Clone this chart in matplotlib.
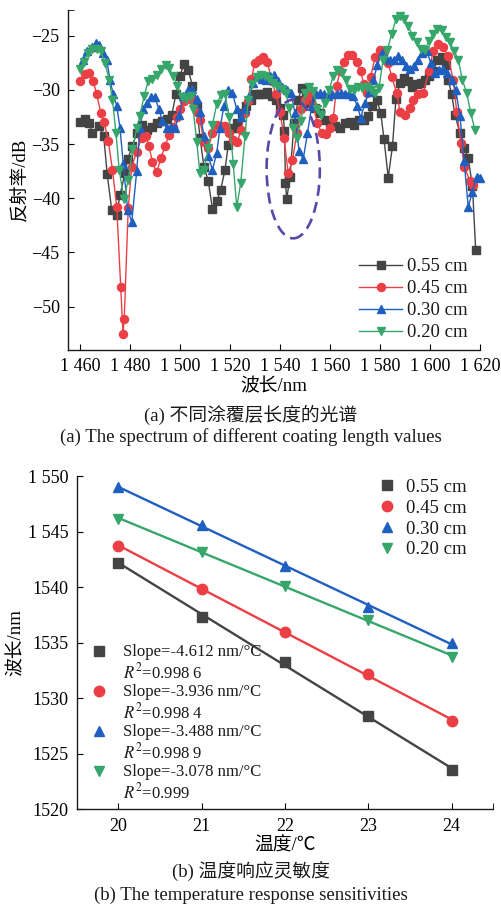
import matplotlib

matplotlib.use("Agg")
import matplotlib.pyplot as plt
import numpy as np
from matplotlib.patches import Ellipse

FONTS = ["Liberation Serif", "Noto Sans CJK SC"]
plt.rcParams.update({
    "font.family": FONTS, "mathtext.fontset": "stix",
    "axes.linewidth": 1.0, "axes.spines.top": False, "axes.spines.right": False,
    "xtick.direction": "in", "ytick.direction": "in",
    "xtick.major.size": 4.5, "ytick.major.size": 4.5,
    "xtick.minor.size": 4.5, "ytick.minor.size": 4.5,
    "text.color": "#1a1a1a", "axes.edgecolor": "#1a1a1a",
})

GRAY, RED, BLUE, GREEN = "#444444", "#ec3f45", "#1f5fbf", "#36a66b"
LABELS = ["0.55 cm", "0.45 cm", "0.30 cm", "0.20 cm"]
COLORS = [GRAY, RED, BLUE, GREEN]
MARKERS = ["s", "o", "^", "v"]

# ---- (a) reflection spectra, (wavelength nm, reflectance dB)
SPEC_055 = np.array([
    (1460, -33.0), (1462, -32.7), (1463.7, -33.1), (1465, -34.0), (1467.7, -33.3),
    (1469.5, -34.3), (1470.9, -37.8), (1472.7, -41.1), (1474.7, -41.5), (1476, -39.7),
    (1478, -37.7), (1479.1, -36.4), (1480.9, -35.2), (1482.7, -34.0), (1484.7, -33.2),
    (1486.7, -33.7), (1488.7, -33.4), (1490.7, -33.1), (1492.7, -32.9), (1494.7, -32.7),
    (1496.7, -32.3), (1498.4, -30.4), (1500, -28.7), (1501.6, -27.6), (1503.3, -28.2),
    (1505, -29.6), (1506.7, -31.5), (1508, -34.4), (1509.6, -37.1), (1511.3, -38.4),
    (1513, -41.0), (1514.7, -40.3), (1516.3, -39.2), (1518, -37.4), (1519.3, -35.1),
    (1521.3, -33.5), (1523, -33.1), (1524.7, -32.1), (1526.4, -31.5), (1528.3, -30.9),
    (1530, -30.4), (1531.7, -30.4), (1533.3, -30.4), (1534.9, -30.2), (1536.7, -30.6),
    (1538.4, -30.9), (1540, -31.7), (1541.3, -32.3), (1541.8, -33.8), (1542.2, -38.6),
    (1542.7, -40.1), (1544, -38.0), (1545.6, -33.1), (1547.3, -30.9), (1548.7, -29.8),
    (1550.4, -30.3), (1552, -31.2), (1554, -31.7), (1556, -32.1), (1558, -32.8),
    (1560, -33.1), (1562, -33.3), (1564, -33.5), (1566, -33.1), (1568, -33.0),
    (1569.7, -33.2), (1571.7, -32.8), (1573.7, -32.8), (1575.3, -32.4), (1577, -31.5),
    (1578.7, -30.9), (1580.3, -32.1), (1581.6, -34.5), (1583.3, -38.1), (1585, -35.2),
    (1586.4, -30.8), (1588, -29.4), (1589.7, -28.9), (1591.3, -29.2), (1593, -29.7),
    (1594.7, -29.5), (1596.3, -29.4), (1598, -29.1), (1599.6, -28.7), (1601.3, -28.3),
    (1603, -27.2), (1604.7, -27.0), (1606.3, -27.7), (1607.3, -29.1), (1608.7, -30.4),
    (1610, -32.3), (1612, -34.0), (1613.7, -35.4), (1615.3, -36.3), (1617, -38.9),
    (1618.3, -44.8),
])
SPEC_045 = np.array([
    (1460, -29.2), (1462, -28.5), (1463.7, -28.4), (1465.3, -29.2), (1466.7, -30.4),
    (1468.3, -32.1), (1469.7, -33.0), (1471.3, -34.7), (1473, -37.4), (1474.7, -40.8),
    (1476.3, -48.2), (1477.2, -52.5), (1477.7, -51.1), (1479.3, -40.9), (1480.7, -37.1),
    (1482.7, -35.7), (1484.7, -34.4), (1486.3, -34.3), (1487.6, -35.2), (1489, -36.7),
    (1490.7, -37.6), (1492.4, -36.3), (1494, -35.2), (1495.6, -34.2), (1497.3, -33.4),
    (1498.7, -32.5), (1500, -31.8), (1501.6, -31.0), (1503.3, -30.5), (1505, -30.9),
    (1506.7, -32.0), (1508, -32.8), (1509.6, -34.8), (1511.3, -35.4), (1513, -34.0),
    (1514.7, -33.2), (1516.3, -33.3), (1518, -33.3), (1519.7, -34.0), (1521.3, -34.6),
    (1523, -34.8), (1524.4, -33.7), (1526, -32.1), (1527.3, -31.0), (1528.5, -29.0),
    (1530, -27.5), (1531.7, -27.2), (1533.3, -27.0), (1535, -27.4), (1536.7, -29.2),
    (1538.4, -30.4), (1540, -32.0), (1541.6, -34.4), (1543.3, -37.7), (1545, -36.5),
    (1546.7, -34.0), (1548.4, -31.8), (1550, -30.9), (1551.7, -30.4), (1553.3, -31.5),
    (1555, -33.1), (1556.7, -34.0), (1558.4, -34.1), (1560, -33.5), (1561.3, -32.6),
    (1562.7, -29.6), (1564, -28.3), (1565.7, -27.4), (1567.3, -26.8), (1569, -26.8),
    (1570.7, -27.4), (1572.3, -28.3), (1573.6, -29.5), (1574.7, -30.3), (1576.3, -28.8),
    (1578, -27.0), (1580, -26.3), (1581.7, -26.5), (1583.3, -27.5), (1584.7, -28.8),
    (1586.7, -30.3), (1588, -32.0), (1590, -32.3), (1592, -31.7), (1593.3, -30.9),
    (1595.3, -30.4), (1597.3, -30.3), (1599.6, -28.3), (1601.3, -26.4), (1603.3, -25.8),
    (1605.3, -26.0), (1607.3, -26.9), (1609.3, -29.1), (1610.7, -32.0), (1612.4, -34.9),
    (1613.7, -37.1), (1616, -38.4), (1617.3, -38.8),
])
SPEC_030 = np.array([
    (1461.3, -27.2), (1463, -26.4), (1464.7, -26.0), (1466.3, -25.7), (1467.7, -25.9),
    (1469.3, -26.6), (1470.7, -27.2), (1472, -29.1), (1473.3, -30.4), (1474.7, -31.5),
    (1476, -33.5), (1477.3, -36.8), (1479.1, -41.1), (1480.7, -42.2), (1482.7, -37.5),
    (1484, -33.5), (1485.3, -31.8), (1486.7, -31.2), (1488.3, -30.7), (1490, -30.7),
    (1491.6, -31.8), (1493, -32.9), (1494.7, -33.5), (1496.3, -33.4), (1498, -33.5),
    (1499.7, -32.3), (1501.3, -30.6), (1503.3, -30.0), (1505, -29.9), (1506.7, -30.8),
    (1508, -32.0), (1509.6, -34.3), (1511.3, -36.1), (1513, -37.4), (1514.7, -35.8),
    (1516, -33.5), (1517.6, -31.5), (1519.3, -30.0), (1521, -30.3), (1522.7, -31.8),
    (1524.3, -32.5), (1526, -31.8), (1527.7, -30.6), (1529.3, -29.4), (1531, -28.8),
    (1532.7, -29.0), (1534.3, -29.1), (1536, -28.7), (1537.6, -28.6), (1539.3, -29.2),
    (1541, -29.7), (1542.7, -30.0), (1544.4, -30.3), (1546, -32.1), (1547.6, -35.6),
    (1549.3, -36.4), (1551, -34.0), (1552.7, -31.5), (1554.3, -30.4), (1556, -30.3),
    (1557.6, -30.4), (1559.3, -30.6), (1561, -30.4), (1562.7, -30.4), (1564.3, -30.3),
    (1566, -30.4), (1567.6, -30.4), (1569.3, -30.6), (1571, -31.5), (1572.3, -32.6),
    (1574, -31.2), (1575.7, -30.2), (1577.3, -29.1), (1579, -27.7), (1580.7, -26.6),
    (1582.3, -27.1), (1584, -27.2), (1585.6, -27.2), (1587.3, -26.9), (1589, -27.2),
    (1590.4, -27.8), (1592, -28.1), (1593.7, -27.8), (1595.3, -27.2), (1597, -26.6),
    (1598.7, -26.4), (1600.3, -27.5), (1602, -28.4), (1603.6, -28.2), (1605.3, -28.1),
    (1607, -28.4), (1608.7, -29.1), (1610.3, -30.0), (1612, -32.4), (1613.7, -36.6),
    (1615.3, -40.8), (1617, -39.4), (1618.7, -38.0), (1620, -38.1),
])
SPEC_020 = np.array([
    (1460, -28.1), (1461.6, -27.4), (1463.3, -26.6), (1465, -26.2), (1466.7, -26.2),
    (1468.3, -26.4), (1470, -27.5), (1471.7, -29.1), (1473, -30.9), (1474.4, -34.0),
    (1475.7, -37.4), (1477.6, -40.1), (1479.3, -38.3), (1481, -35.5), (1482.7, -33.5),
    (1484, -32.4), (1485.6, -30.6), (1487.3, -29.2), (1489, -29.0), (1490.7, -28.6),
    (1492.4, -28.1), (1494.3, -27.7), (1495.6, -28.0), (1497.3, -28.7), (1499, -29.6),
    (1500.7, -30.7), (1502.4, -30.8), (1504.3, -30.6), (1505.3, -31.8), (1506.7, -34.8),
    (1508, -37.7), (1509.6, -37.4), (1511.3, -35.4), (1513, -33.2), (1514.7, -31.3),
    (1516.3, -30.5), (1518, -30.4), (1519.7, -32.5), (1521.3, -36.8), (1522.7, -40.8),
    (1524.3, -38.6), (1526, -34.3), (1527.3, -30.9), (1528.9, -29.5), (1530.7, -28.8),
    (1532.3, -28.6), (1534, -28.7), (1535.7, -29.0), (1537.3, -29.4), (1539, -29.6),
    (1540.7, -29.9), (1542.4, -30.3), (1543.7, -31.7), (1545.3, -33.5), (1546.7, -34.4),
    (1548.4, -32.9), (1550, -30.3), (1551.7, -29.7), (1553.3, -30.1), (1555, -31.8),
    (1556.4, -32.3), (1558, -31.2), (1559.7, -30.0), (1561.3, -28.7), (1563, -28.2),
    (1564.7, -28.4), (1566.4, -29.1), (1568, -29.9), (1569.7, -30.0), (1571.3, -29.7),
    (1573, -29.8), (1574.7, -29.7), (1576.3, -30.0), (1578, -30.3), (1579.6, -29.8),
    (1581.3, -27.2), (1583, -26.3), (1584.7, -24.8), (1586.4, -23.5), (1588, -23.2),
    (1589.7, -23.5), (1591.3, -24.1), (1593, -25.0), (1594.7, -25.6), (1596.3, -26.2),
    (1598, -26.3), (1599.6, -25.5), (1601.3, -24.8), (1603, -24.4), (1604.7, -24.5),
    (1606.3, -25.1), (1608, -25.6), (1609.6, -26.4), (1611.3, -27.2), (1613, -29.1),
    (1614.7, -30.3), (1616.3, -32.1), (1618, -33.7),
])
SPECTRA = [SPEC_055, SPEC_045, SPEC_030, SPEC_020]
WL_TICKS = [1460, 1480, 1500, 1520, 1540, 1560, 1580, 1600, 1620]

# ---- (b) temperature response, dip wavelength (nm)
TEMP = [20, 21, 22, 23, 24]
DIP_055 = [1542.2, 1537.34, 1533.23, 1528.43, 1523.54]
DIP_045 = [1543.73, 1539.8, 1535.99, 1532.18, 1527.95]
DIP_030 = [1548.98, 1545.59, 1541.93, 1538.24, 1534.94]
DIP_020 = [1546.13, 1543.19, 1540.1, 1537.04, 1533.74]
DIPS = [DIP_055, DIP_045, DIP_030, DIP_020]
SLOPES = ["-4.612", "-3.936", "-3.488", "-3.078"]
R2 = ["0.998 6", "0.998 4", "0.998 9", "0.999"]
B_YTICKS = [1520, 1525, 1530, 1535, 1540, 1545, 1550]
B_YLABELS = ["1520", "1525", "1530", "1535", "1540", "1 545", "1 550"]

fig = plt.figure(figsize=(5.01, 9.05), dpi=100)

# ---------------- (a)
ax = fig.add_axes([0.1357, 0.6133, 0.8223, 0.376])
for spec, lab, c, m in zip(SPECTRA, LABELS, COLORS, MARKERS):
    ax.plot(spec[:, 0], spec[:, 1], "-", marker=m, color=c, lw=1.0, ms=5.8,
            mec=c, label=lab, clip_on=False)
ax.add_patch(Ellipse((1545.3, -37.3), 21.3, 12.8, fill=False, color="#5b47a8",
                     lw=1.9, ls=(0, (4.2, 2.4)), zorder=5))
ax.set_xlim(1455.2, 1620)
ax.set_ylim(-54, -22.6)
ax.set_xticks(WL_TICKS, [f"{t // 1000} {t % 1000:03d}" for t in WL_TICKS])
ax.set_yticks([-50, -45, -40, -35, -30, -25])
ax.set_yticks([-22.6], minor=True)
ax.tick_params(labelsize=13, pad=6)
ax.set_xlabel("波长/nm", fontsize=13.5, labelpad=2)
ax.set_ylabel("反射率/dB", fontsize=13.5, labelpad=2)
ax.legend(loc="lower right", bbox_to_anchor=(0.97, 0.025), frameon=False,
          fontsize=13.5, handlelength=2.3, handletextpad=0.25, labelspacing=0.26,
          borderaxespad=0, borderpad=0)
fig.text(0.5, 1 - 415 / 905, "(a) 不同涂覆层长度的光谱", ha="center", va="center",
         fontsize=13.5)
fig.text(0.5, 1 - 437 / 905, "(a) The spectrum of different coating length values",
         ha="center", va="center", fontsize=13.5)

# ---------------- (b)
bx = fig.add_axes([0.153, 0.1057, 0.8317, 0.3683])
fit_handles = []
for dip, lab, c, m in zip(DIPS, LABELS, COLORS, MARKERS):
    k, b0 = np.polyfit(TEMP, dip, 1)
    t = np.array([TEMP[0], TEMP[-1]])
    bx.plot(t, k * t + b0, "-", color=c, lw=1.7, zorder=2)
    h, = bx.plot(TEMP, dip, ls="", marker=m, color=c, ms=7.5, label=lab, zorder=3,
                 clip_on=False)
    fit_handles.append(h)
bx.set_xlim(19.5, 24.5)
bx.set_ylim(1520, 1550)
bx.set_xticks(TEMP)
bx.set_xticks([24.5], minor=True)
bx.set_yticks(B_YTICKS, B_YLABELS)
bx.tick_params(labelsize=13, pad=6)
bx.set_xlabel("温度/℃", fontsize=13.5, labelpad=2)
bx.set_ylabel("波长/nm", fontsize=13.5, labelpad=2)
leg1 = bx.legend(handles=fit_handles, loc="upper right", bbox_to_anchor=(0.935, 0.992),
                 frameon=False, fontsize=13.5, handlelength=1.0, handletextpad=0.5,
                 labelspacing=0.2, borderaxespad=0, borderpad=0)
bx.add_artist(leg1)
blank = plt.Line2D([], [], ls="", marker="")
handles, labels = [], []
for h, s, r in zip(fit_handles, SLOPES, R2):
    handles += [h, blank]
    labels += [f"Slope={s} nm/°C", f"$R^2$=" + r]
bx.legend(handles=handles, labels=labels, loc="upper left",
          bbox_to_anchor=(0.03, 0.495), frameon=False, fontsize=12,
          handlelength=1.2, handletextpad=0.85, labelspacing=0.12,
          borderaxespad=0, borderpad=0)
fig.text(0.5, 1 - 872 / 905, "(b) 温度响应灵敏度", ha="center", va="center",
         fontsize=13.5)
fig.text(0.5, 1 - 895 / 905, "(b) The temperature response sensitivities",
         ha="center", va="center", fontsize=13.5)

fig.savefig("out.png", dpi=100)
